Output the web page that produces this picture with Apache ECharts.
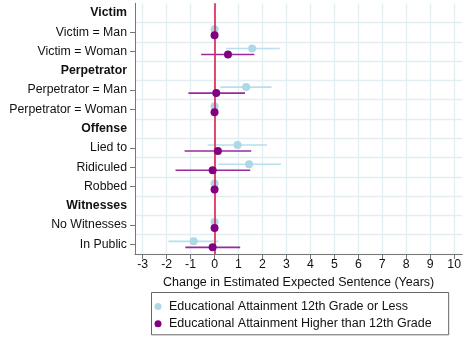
<!DOCTYPE html>
<html>
<head>
<meta charset="utf-8">
<script src="https://cdn.jsdelivr.net/npm/echarts@6/dist/echarts.min.js"></script>
<style>
html,body{margin:0;padding:0;background:#fff;}
#chart{width:464px;height:337px;}
</style>
</head>
<body>
<div id="chart"></div>
<script>
const categories = ['Victim','Victim = Man','Victim = Woman','Perpetrator','Perpetrator = Man','Perpetrator = Woman','Offense','Lied to','Ridiculed','Robbed','Witnesses','No Witnesses','In Public'];
const headers = ['Victim','Perpetrator','Offense','Witnesses'];
const xTicks = [-3,-2,-1,0,1,2,3,4,5,6,7,8,9,10];
const seriesNames = ['Educational Attainment 12th Grade or Less','Educational Attainment Higher than 12th Grade'];

// 12th grade or less
const lowEst = [null, 0, 1.57, null, 1.32, 0, null, 0.96, 1.44, 0, null, 0, -0.87];
const lowLo  = [null, 0, 0.48, null, 0.24, 0, null, -0.29, 0.16, 0, null, 0, -1.92];
const lowHi  = [null, 0, 2.72, null, 2.38, 0, null, 2.19, 2.77, 0, null, 0, 0.17];
// higher than 12th grade
const highEst = [null, 0, 0.56, null, 0.07, 0, null, 0.14, -0.08, 0, null, 0, -0.08];
const highLo  = [null, 0, -0.56, null, -1.09, 0, null, -1.25, -1.63, 0, null, 0, -1.22];
const highHi  = [null, 0, 1.66, null, 1.27, 0, null, 1.53, 1.49, 0, null, 0, 1.07];

const FONT = 'Liberation Sans, Arial, sans-serif';
const FS = 12.3;
const FS2 = 12.5;
const colLow = '#add8e6', colLowCI = '#b8dfeb';
const colHigh = '#800080', colHighCI = '#9a2a9a';

function pts(est){ const r=[]; est.forEach((v,i)=>{ if(v!==null) r.push([v, categories[i]]); }); return r; }
function cis(lo,hi){ const r=[]; lo.forEach((v,i)=>{ if(v!==null && hi[i]!==v) r.push([v, hi[i], i]); }); return r; }
function ciRender(off, color){
  return function(params, api){
    const y = api.value(2);
    const a = api.coord([api.value(0), y]);
    const b = api.coord([api.value(1), y]);
    return {type:'line', shape:{x1:a[0], y1:a[1]+off, x2:b[0], y2:b[1]+off}, style:{stroke:color, lineWidth:1.6}};
  };
}

const chart = echarts.init(document.getElementById('chart'), null, {renderer:'canvas'});
chart.setOption({
  animation:false,
  backgroundColor:'#fff',
  textStyle:{fontFamily:FONT},
  grid:{left:135, right:0, top:3.3, bottom:83, containLabel:false},
  legend:{
    orient:'vertical', left:151.5, top:292.5,
    data:seriesNames.map(n=>({name:n, icon:'circle'})),
    itemWidth:12, itemHeight:7, itemGap:3.3,
    padding:[7,17,4,3],
    borderColor:'#666', borderWidth:1,
    textStyle:{fontFamily:FONT, fontSize:FS2, color:'#111', lineHeight:14}
  },
  xAxis:{
    type:'value', min:-3.32, max:10.34,
    name:'Change in Estimated Expected Sentence (Years)',
    nameLocation:'middle', nameGap:19,
    nameTextStyle:{fontFamily:FONT, fontSize:FS2, color:'#111', verticalAlign:'top'},
    axisLine:{show:true, onZero:false, lineStyle:{color:'#777', width:1}},
    axisTick:{show:true, length:5, customValues:xTicks, lineStyle:{color:'#777'}},
    axisLabel:{customValues:xTicks, margin:5, fontFamily:FONT, fontSize:FS, color:'#111'},
    splitLine:{show:true, lineStyle:{color:'#e3eef2', width:1.3}}
  },
  yAxis:{
    type:'category', data:categories, inverse:true, boundaryGap:true,
    axisLine:{show:true, onZero:false, lineStyle:{color:'#777', width:1}},
    axisTick:{show:true, length:5, alignWithLabel:true, interval:(i,v)=>!headers.includes(v), lineStyle:{color:'#777'}},
    axisLabel:{interval:0, margin:8, fontFamily:FONT, fontSize:FS, color:'#111',
      formatter:v=>headers.includes(v)?'{b|'+v+'}':v,
      rich:{b:{fontFamily:FONT, fontSize:FS, fontWeight:'bold', color:'#111'}}},
    splitLine:{show:true, interval:0, showMinLine:false, lineStyle:{color:'#e3eef2', width:1.3}}
  },
  series:[
    {name:seriesNames[0]+' CI', type:'custom', renderItem:ciRender(-3, colLowCI), data:cis(lowLo,lowHi), encode:{x:[0,1], y:2}, z:2, silent:true},
    {name:seriesNames[1]+' CI', type:'custom', renderItem:ciRender(3, colHighCI), data:cis(highLo,highHi), encode:{x:[0,1], y:2}, z:2, silent:true},
    {type:'line', data:[], z:3, silent:true,
      markLine:{symbol:'none', silent:true, label:{show:false}, lineStyle:{color:'#dc1f4e', width:1.6, type:'solid'}, data:[{xAxis:0}]}},
    {name:seriesNames[0], type:'scatter', data:pts(lowEst), symbolSize:8, symbolOffset:[0,-3], itemStyle:{color:colLow, opacity:1}, z:4},
    {name:seriesNames[1], type:'scatter', data:pts(highEst), symbolSize:8, symbolOffset:[0,3], itemStyle:{color:colHigh, opacity:1}, z:5}
  ]
});
</script>
</body>
</html>
